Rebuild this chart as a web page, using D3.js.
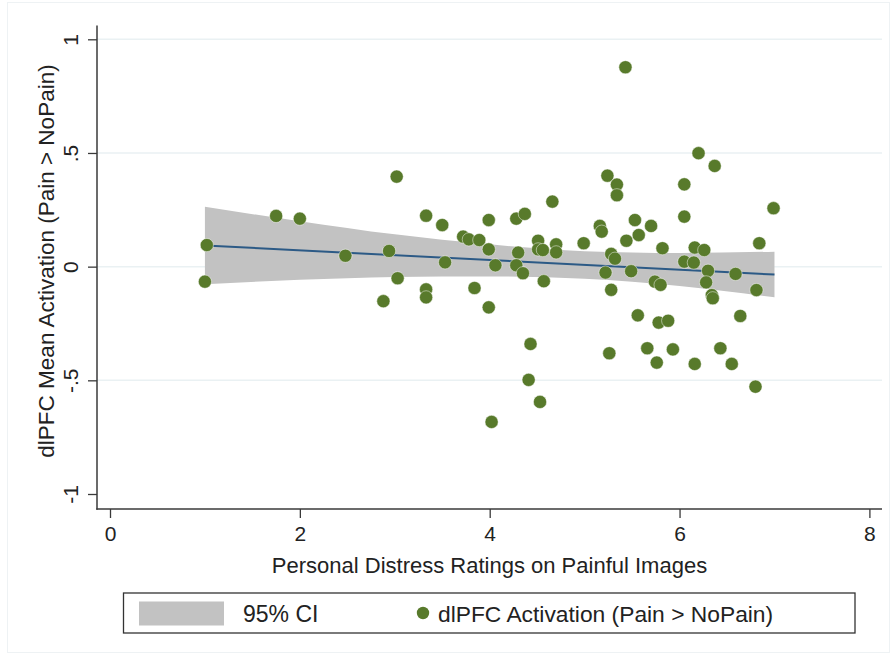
<!DOCTYPE html>
<html>
<head>
<meta charset="utf-8">
<script src="https://cdn.jsdelivr.net/npm/d3@7/dist/d3.min.js"></script>
<style>
  html, body { margin: 0; padding: 0; background: #fff; }
  svg { display: block; font-family: "Liberation Sans", Arial, Helvetica, sans-serif; }
</style>
</head>
<body>
<svg id="chart" width="896" height="656"></svg>
<script>
// ---- data ----
const distress = [1.02, 1.00, 1.75, 2.00, 2.48, 2.94, 3.03, 2.88, 3.02, 3.33, 3.50, 3.33, 3.33, 3.53, 3.72, 3.78, 3.89, 3.84, 3.99, 3.99,
  4.06, 3.99, 4.02, 4.28, 4.37, 4.30, 4.28, 4.35, 4.43, 4.41, 4.53, 4.66, 4.51, 4.51, 4.56, 4.57, 4.70, 4.70, 4.99, 5.16,
  5.18, 5.22, 5.28, 5.26, 5.28, 5.32, 5.44, 5.49, 5.53, 5.57, 5.56, 5.43, 5.24, 5.34, 5.34, 5.70, 5.82, 6.20, 6.37, 6.05,
  6.05, 6.16, 6.26, 6.05, 6.15, 6.30, 6.59, 6.84, 6.99, 5.74, 5.80, 6.28, 6.34, 6.35, 6.81, 5.78, 5.88, 6.64, 5.66, 5.93,
  5.76, 6.16, 6.43, 6.55, 6.80];
const activation = [0.095, -0.066, 0.223, 0.211, 0.048, 0.069, -0.051, -0.152, 0.396, 0.224, 0.183, -0.100, -0.135, 0.019, 0.132, 0.120, 0.117, -0.094, 0.205, 0.076,
  0.006, -0.179, -0.683, 0.211, 0.232, 0.062, 0.006, -0.029, -0.340, -0.498, -0.595, 0.286, 0.114, 0.076, 0.073, -0.064, 0.098, 0.063, 0.103, 0.179,
  0.154, -0.026, -0.102, -0.381, 0.056, 0.035, 0.114, -0.020, 0.205, 0.139, -0.214, 0.877, 0.400, 0.361, 0.314, 0.179, 0.081, 0.499, 0.443, 0.362,
  0.220, 0.084, 0.073, 0.022, 0.018, -0.018, -0.032, 0.103, 0.257, -0.066, -0.080, -0.069, -0.125, -0.139, -0.103, -0.246, -0.238, -0.217, -0.359, -0.364,
  -0.422, -0.428, -0.359, -0.428, -0.528];

const fitX = [1, 7];
const fitY = [0.093, -0.035];

const ciX    = [1, 2, 3, 4, 5, 6, 7];
const ciHigh = [0.263, 0.200, 0.142, 0.098, 0.068, 0.060, 0.066];
const ciLow  = [-0.077, -0.058, -0.045, -0.043, -0.053, -0.085, -0.135];

const xTicks = [0, 2, 4, 6, 8];
const xTickLabels = ["0", "2", "4", "6", "8"];
const yTicks = [-1, -0.5, 0, 0.5, 1];
const yTickLabels = ["-1", "-.5", "0", ".5", "1"];
const yGrid = [-0.5, 0, 0.5, 1];

const xTitle = "Personal Distress Ratings on Painful Images";
const yTitle = "dlPFC Mean Activation (Pain > NoPain)";
const legendCI = "95% CI";
const legendPts = "dlPFC Activation (Pain > NoPain)";

// ---- drawing ----
const svg = d3.select("#chart");
const plotL = 97, plotR = 882, plotT = 25.5, plotB = 509;

const x = d3.scaleLinear().domain([0, 8]).range([110, 869.4]);
const y = d3.scaleLinear().domain([-1, 1]).range([494, 39.3]);

const green = "#587a2b";
const axisCol = "#3a3a3a";

// outer frame
svg.append("rect").attr("x", 7.5).attr("y", 2.5).attr("width", 882).attr("height", 650)
  .attr("fill", "none").attr("stroke", "#eef2f4").attr("stroke-width", 1);

// gridlines
svg.append("g").selectAll("line").data(yGrid).join("line")
  .attr("x1", plotL).attr("x2", plotR)
  .attr("y1", d => y(d)).attr("y2", d => y(d))
  .attr("stroke", "#eaf1f3").attr("stroke-width", 1.5);

// CI band
const ciData = ciX.map((v, i) => ({ x: v, lo: ciLow[i], hi: ciHigh[i] }));
svg.append("path").datum(ciData)
  .attr("d", d3.area().curve(d3.curveMonotoneX)
    .x(d => x(d.x)).y0(d => y(d.lo)).y1(d => y(d.hi)))
  .attr("fill", "#c2c2c2");

// fitted line
svg.append("path").datum(fitX.map((v, i) => [v, fitY[i]]))
  .attr("d", d3.line().x(d => x(d[0])).y(d => y(d[1])))
  .attr("fill", "none").attr("stroke", "#2c5a86").attr("stroke-width", 2);

// points
svg.append("g").selectAll("circle").data(distress.map((v, i) => [v, activation[i]])).join("circle")
  .attr("cx", d => x(d[0])).attr("cy", d => y(d[1])).attr("r", 6.6)
  .attr("fill", green).attr("stroke", "#ffffff").attr("stroke-opacity", 0.6).attr("stroke-width", 0.8);

// axes
const yAxis = d3.axisLeft(y).tickValues(yTicks).tickFormat((d, i) => yTickLabels[i])
  .tickSize(9).tickSizeOuter(0).tickPadding(0);
const gy = svg.append("g").attr("transform", `translate(${plotL},0)`).call(yAxis);
gy.select(".domain").remove();
gy.selectAll(".tick line").attr("stroke", axisCol).attr("stroke-width", 1.3);
gy.selectAll(".tick text")
  .attr("x", null).attr("dy", null)
  .attr("transform", "translate(-19,0) rotate(-90)")
  .attr("text-anchor", "middle").attr("y", 0)
  .style("font-size", "21px").style("font-family", "'Liberation Sans', Arial, sans-serif")
  .attr("fill", "#222");

const xAxis = d3.axisBottom(x).tickValues(xTicks).tickFormat((d, i) => xTickLabels[i])
  .tickSize(9).tickSizeOuter(0).tickPadding(0);
const gx = svg.append("g").attr("transform", `translate(0,${plotB})`).call(xAxis);
gx.select(".domain").remove();
gx.selectAll(".tick line").attr("stroke", axisCol).attr("stroke-width", 1.3);
gx.selectAll(".tick text").attr("y", 31.5).attr("dy", null)
  .style("font-size", "21px").style("font-family", "'Liberation Sans', Arial, sans-serif")
  .attr("fill", "#222");

// axis lines
svg.append("line").attr("x1", plotL).attr("x2", plotL).attr("y1", plotT).attr("y2", plotB + 0.7)
  .attr("stroke", axisCol).attr("stroke-width", 1.5);
svg.append("line").attr("x1", plotL - 0.7).attr("x2", plotR).attr("y1", plotB).attr("y2", plotB)
  .attr("stroke", axisCol).attr("stroke-width", 1.5);

// axis titles
svg.append("text").attr("x", 489.5).attr("y", 572.5).attr("text-anchor", "middle")
  .style("font-size", "22px").attr("fill", "#222").text(xTitle);
svg.append("text").attr("transform", "translate(54,261) rotate(-90)").attr("text-anchor", "middle")
  .style("font-size", "22.5px").attr("fill", "#222").text(yTitle);

// legend
const lg = svg.append("g");
lg.append("rect").attr("x", 123.5).attr("y", 593).attr("width", 731.5).attr("height", 40)
  .attr("fill", "#fff").attr("stroke", "#333").attr("stroke-width", 1.3);
lg.append("rect").attr("x", 139).attr("y", 601.5).attr("width", 85).attr("height", 24)
  .attr("fill", "#c2c2c2");
lg.append("text").attr("x", 243).attr("y", 622).style("font-size", "23px").attr("fill", "#222").text(legendCI);
lg.append("circle").attr("cx", 423).attr("cy", 613).attr("r", 6.2).attr("fill", green);
lg.append("text").attr("x", 438).attr("y", 622).style("font-size", "22.8px").attr("fill", "#222").text(legendPts);
</script>
</body>
</html>
